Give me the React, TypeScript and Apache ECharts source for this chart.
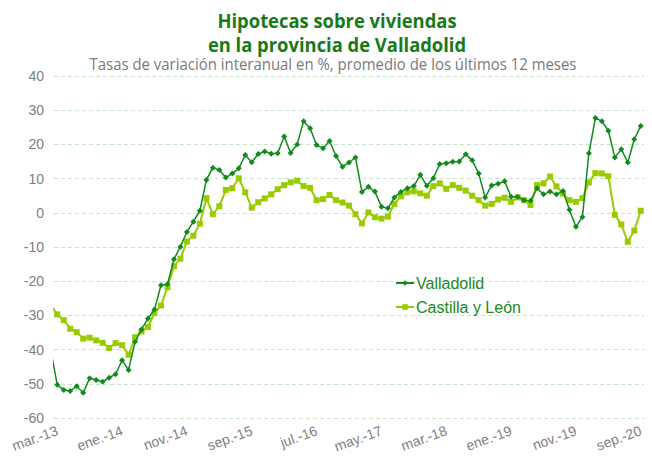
import React, { useEffect, useRef } from "react";
import * as echarts from "echarts";

// Monthly data, index -1 = feb.-13 (clipped by plot edge), index 0 = mar.-13 ... index 90 = sep.-20
const tickLabels = ["mar.-13", "ene.-14", "nov.-14", "sep.-15", "jul.-16", "may.-17", "mar.-18", "ene.-19", "nov.-19", "sep.-20"];
const tickPositions = [0, 10, 20, 30, 40, 50, 60, 70, 80, 90];

const titleLines = ["Hipotecas sobre viviendas", "en la provincia de Valladolid"];
const subtitle = "Tasas de variación interanual en %, promedio de los últimos 12 meses";

const valladolid = [
  -40.1,
  -50.3, -51.8, -52.1, -50.7, -52.6, -48.4, -48.9, -49.4, -48.2, -47.2,
  -43.1, -46.0, -37.7, -34.1, -30.9, -28.3, -21.2, -20.9, -13.6, -9.9,
  -5.6, -2.6, 0.6, 9.6, 13.2, 12.5, 10.3, 11.5, 13.0, 16.9,
  14.8, 17.2, 17.9, 17.3, 17.4, 22.3, 17.5, 20.0, 26.8, 24.7,
  19.8, 18.9, 21.0, 16.6, 13.5, 14.7, 16.2, 6.1, 7.6, 6.2,
  1.8, 1.3, 4.5, 6.1, 7.2, 7.8, 11.1, 7.9, 10.1, 14.3,
  14.5, 14.9, 15.0, 17.1, 15.4, 11.5, 4.5, 8.0, 8.5, 9.2,
  4.7, 4.7, 3.7, 3.5, 7.2, 5.4, 6.2, 5.4, 6.4, 0.9,
  -4.1, -1.2, 17.4, 27.7, 26.8, 24.0, 16.2, 18.6, 14.7, 21.5,
  25.4,
];

const castillaLeon = [
  -27.1,
  -29.7, -31.4, -33.9, -34.9, -36.8, -36.5, -37.3, -38.0, -39.5, -38.1,
  -38.7, -41.5, -36.4, -34.7, -33.4, -29.3, -27.1, -21.8, -15.6, -13.4,
  -8.4, -6.7, -3.2, 4.3, -0.4, 1.9, 6.7, 7.2, 10.1, 6.0,
  1.5, 3.1, 4.2, 5.4, 6.9, 8.1, 8.9, 9.4, 7.8, 7.3,
  3.7, 4.0, 5.2, 3.7, 3.0, 2.1, -0.4, -3.1, 0.1, -1.3,
  -1.7, -1.1, 2.6, 4.8, 6.0, 6.3, 5.7, 5.0, 7.8, 8.6,
  7.0, 8.1, 7.3, 6.5, 5.0, 3.7, 2.1, 2.6, 3.9, 4.4,
  3.2, 4.5, 3.7, 2.3, 8.1, 8.6, 10.6, 7.7, 5.6, 3.7,
  3.2, 4.3, 8.9, 11.6, 11.5, 10.7, -0.6, -3.4, -8.5, -5.2,
  0.6,
];

const toPoints = (arr: number[]) => arr.map((v, i) => [i - 1, v]);

export default function App() {
  const ref = useRef<HTMLDivElement>(null);
  useEffect(() => {
    if (!ref.current) return;
    const chart = echarts.init(ref.current, null, { renderer: "svg" });
    const labelFont = "'Liberation Sans', Arial, sans-serif";
    const titleFont = "bold 20px 'Open Sans', sans-serif";
    chart.setOption({
      animation: false,
      backgroundColor: "#ffffff",
      graphic: [
        {
          type: "text",
          x: 337,
          y: 20,
          scaleX: 0.92,
          style: { text: titleLines[0], font: titleFont, fill: "#177a17", textAlign: "center", textVerticalAlign: "middle" },
        },
        {
          type: "text",
          x: 337,
          y: 44,
          scaleX: 0.92,
          style: { text: titleLines[1], font: titleFont, fill: "#177a17", textAlign: "center", textVerticalAlign: "middle" },
        },
        {
          type: "text",
          x: 333,
          y: 64,
          scaleX: 0.934,
          style: { text: subtitle, font: "16px 'Open Sans', sans-serif", fill: "#7a7a7a", textAlign: "center", textVerticalAlign: "middle" },
        },
      ],
      legend: {
        orient: "vertical",
        left: 395,
        top: 275,
        padding: 0,
        itemWidth: 18,
        itemHeight: 7,
        itemGap: 8,
        textStyle: { color: "#1a8a1a", fontSize: 16, fontFamily: labelFont, padding: [0, 0, 0, -3] },
        data: ["Valladolid", "Castilla y León"],
      },
      grid: { left: 54, right: 8, top: 76, bottom: 40, containLabel: false },
      xAxis: {
        type: "value",
        min: -0.5,
        max: 90.5,
        splitLine: { show: false },
        axisLine: { show: false },
        axisTick: { show: false },
        axisLabel: {
          customValues: tickPositions,
          formatter: (v: number) => tickLabels[tickPositions.indexOf(Math.round(v))] ?? "",
          rotate: 20,
          color: "#808080",
          fontSize: 14,
          fontFamily: labelFont,
          margin: 12,
          showMinLabel: true,
          showMaxLabel: true,
        },
      },
      yAxis: {
        type: "value",
        min: -60,
        max: 40,
        interval: 10,
        axisLine: { show: false },
        axisTick: { show: false },
        axisLabel: { color: "#808080", fontSize: 14, fontFamily: labelFont, margin: 10 },
        splitLine: { show: true, lineStyle: { color: "#c9e4c9", type: [4, 3], width: 1 } },
      },
      series: [
        {
          name: "Valladolid",
          type: "line",
          data: toPoints(valladolid),
          symbol: "diamond",
          symbolSize: 6,
          showAllSymbol: true,
          clip: true,
          itemStyle: { color: "#138a1c" },
          lineStyle: { color: "#138a1c", width: 1.5 },
          z: 3,
        },
        {
          name: "Castilla y León",
          type: "line",
          data: toPoints(castillaLeon),
          symbol: "rect",
          symbolSize: 6,
          showAllSymbol: true,
          clip: true,
          itemStyle: { color: "#99cc00" },
          lineStyle: { color: "#99cc00", width: 2 },
          z: 2,
        },
      ],
    });
    return () => chart.dispose();
  }, []);
  return <div ref={ref} style={{ width: 652, height: 458, position: "absolute", left: 0, top: 0 }} />;
}
